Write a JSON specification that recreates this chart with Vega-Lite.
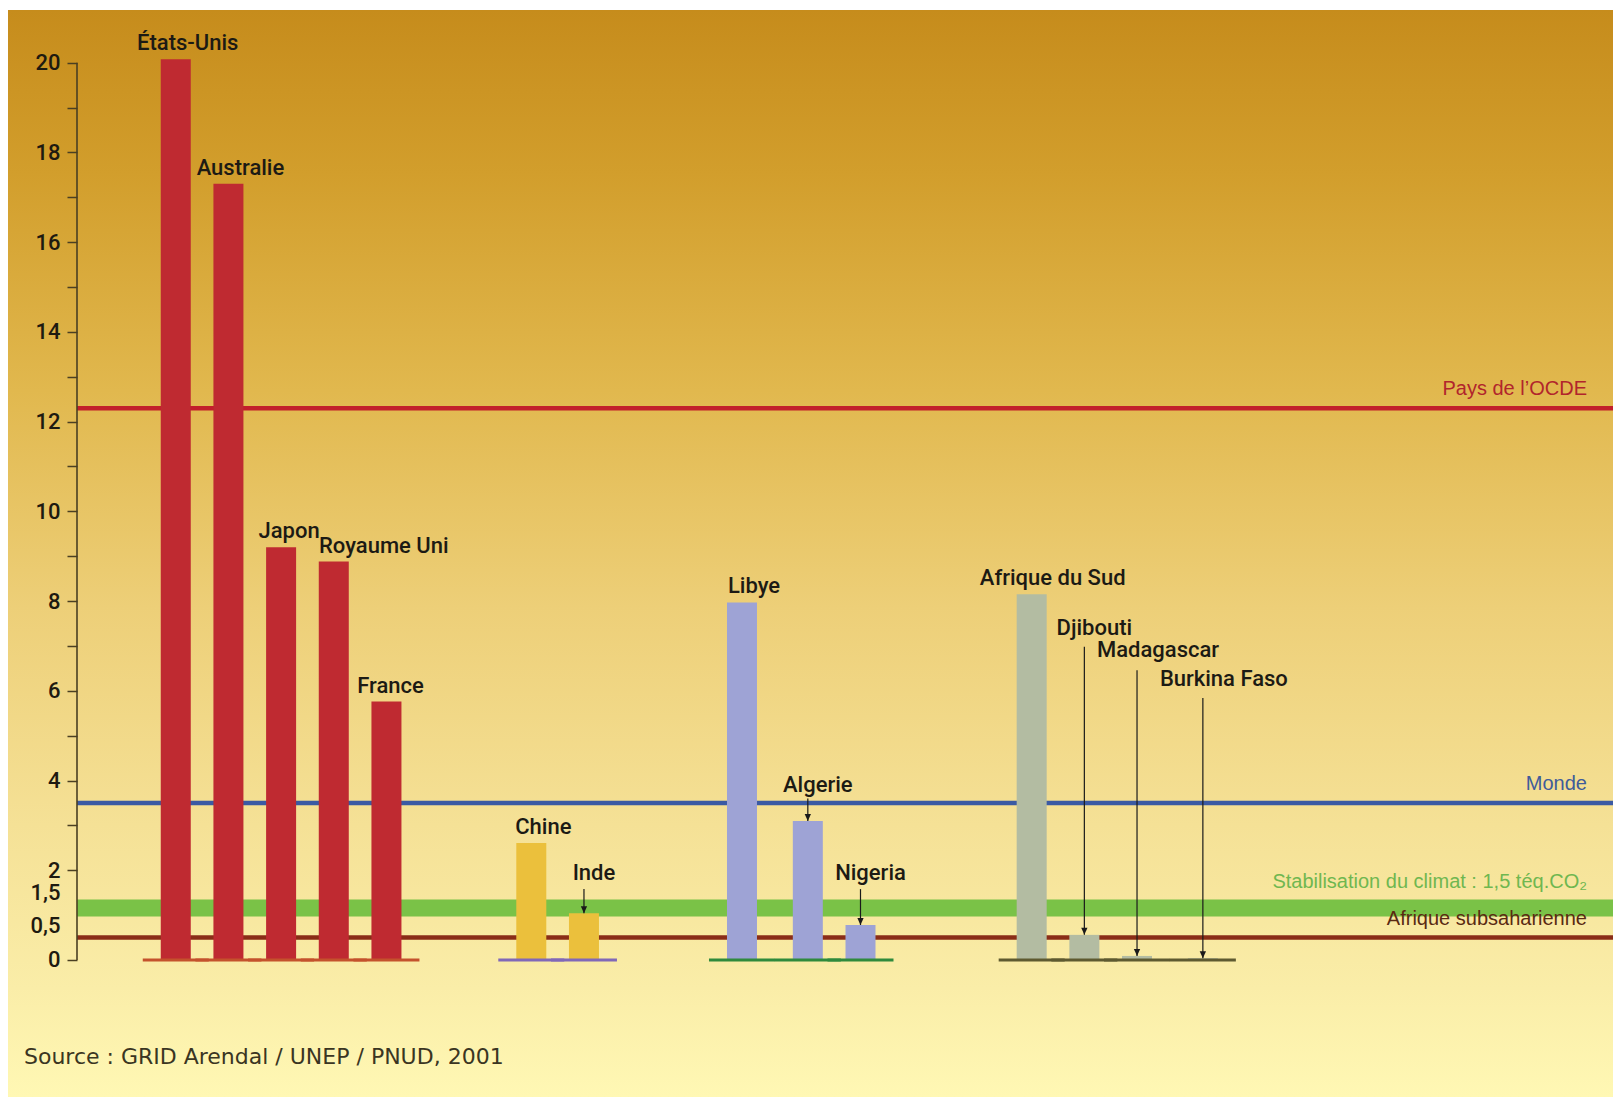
{
  "$schema": "https://vega.github.io/schema/vega-lite/v6.json",
  "width": 1605,
  "height": 1087,
  "autosize": {"type": "none"},
  "padding": {"left": 8, "top": 10, "right": 0, "bottom": 3},
  "background": "#ffffff",
  "view": {
    "stroke": null,
    "fill": {"expr": "{gradient: 'linear', x1: 0, y1: 0, x2: 0, y2: 1, stops: [{offset: 0, color: '#C68C1C'}, {offset: 0.15, color: '#D29E2C'}, {offset: 0.35, color: '#E1B84E'}, {offset: 0.55, color: '#EDCF78'}, {offset: 0.75, color: '#F5E196'}, {offset: 0.9, color: '#FAEDA8'}, {offset: 1, color: '#FFF8B4'}]}"}
  },
  "title": {
    "text": "Source : GRID Arendal / UNEP / PNUD, 2001",
    "orient": "bottom",
    "anchor": "start",
    "offset": -50,
    "dx": 16,
    "font": "DejaVu Sans",
    "fontSize": 22,
    "fontWeight": "normal",
    "color": "#3A3522"
  },
  "datasets": {
    "bars": [
      {"country": "États-Unis", "group": "OCDE", "value": 20.08},
      {"country": "Australie", "group": "OCDE", "value": 17.3},
      {"country": "Japon", "group": "OCDE", "value": 9.2},
      {"country": "Royaume Uni", "group": "OCDE", "value": 8.88},
      {"country": "France", "group": "OCDE", "value": 5.76},
      {"country": "Chine", "group": "Asie", "value": 2.61},
      {"country": "Inde", "group": "Asie", "value": 1.04},
      {"country": "Libye", "group": "Afrique pétrolière", "value": 7.97},
      {"country": "Algerie", "group": "Afrique pétrolière", "value": 3.1},
      {"country": "Nigeria", "group": "Afrique pétrolière", "value": 0.78},
      {"country": "Afrique du Sud", "group": "Afrique", "value": 8.15},
      {"country": "Djibouti", "group": "Afrique", "value": 0.56},
      {"country": "Madagascar", "group": "Afrique", "value": 0.09},
      {"country": "Burkina Faso", "group": "Afrique", "value": 0.04}
    ],
    "refs": [
      {"name": "Pays de l’OCDE", "value": 12.3},
      {"name": "Monde", "value": 3.5},
      {"name": "Stabilisation du climat : 1,5 téq.CO₂", "value": 1.16},
      {"name": "Afrique subsaharienne", "value": 0.5}
    ],
    "callouts": [
      {"country": "Inde", "label_at": 1.94, "arrow_from": 1.58},
      {"country": "Algerie", "label_at": 3.9, "arrow_from": 3.6},
      {"country": "Nigeria", "label_at": 1.94, "arrow_from": 1.58},
      {"country": "Djibouti", "label_at": 7.4, "arrow_from": 6.98},
      {"country": "Madagascar", "label_at": 6.91, "arrow_from": 6.46},
      {"country": "Burkina Faso", "label_at": 6.26, "arrow_from": 5.84}
    ]
  },
  "resolve": {"scale": {"color": "independent"}},
  "layer": [
    {
      "data": {"name": "bars"},
      "mark": {"type": "bar", "width": 30, "opacity": 0},
      "encoding": {
        "x": {
          "field": "country",
          "type": "nominal",
          "scale": {
            "type": "band",
            "domain": ["_0","_1","_2","_3","_4","_5","_6","États-Unis","_8","_9","_10","Australie","_12","_13","_14","Japon","_16","_17","_18","Royaume Uni","_20","_21","_22","France","_24","_25","_26","_27","_28","_29","_30","_31","_32","_33","Chine","_35","_36","_37","Inde","_39","_40","_41","_42","_43","_44","_45","_46","_47","_48","_49","Libye","_51","_52","_53","_54","Algerie","_56","_57","_58","Nigeria","_60","_61","_62","_63","_64","_65","_66","_67","_68","_69","_70","_71","Afrique du Sud","_73","_74","_75","Djibouti","_77","_78","_79","Madagascar","_81","_82","_83","_84","Burkina Faso","_86","_87","_88","_89","_90","_91","_92","_93","_94","_95","_96","_97","_98","_99","_100","_101","_102","_103","_104","_105","_106","_107","_108","_109","_110","_111","_112","_113","_114","_115"],
            "range": [69, 1596.49],
            "paddingInner": 0,
            "paddingOuter": 0
          },
          "axis": null
        },
        "y": {
          "field": "value",
          "type": "quantitative",
          "scale": {"domain": [-3.054, 21.175], "nice": false, "zero": false},
          "axis": {
            "orient": "left",
            "offset": -69,
            "title": null,
            "domain": false,
            "grid": false,
            "values": [0, 0.5, 1.5, 2, 3, 4, 5, 6, 7, 8, 9, 10, 11, 12, 13, 14, 15, 16, 17, 18, 19, 20],
            "labelExpr": "datum.value == 0.5 ? '0,5' : (datum.value == 1.5 ? '1,5' : (datum.value % 2 == 1 ? '' : '' + datum.value))",
            "labelOverlap": false,
            "labelFont": "Roboto",
            "labelFontWeight": 500,
            "labelFontSize": 22,
            "labelColor": "#1E1A10",
            "labelPadding": 7,
            "labelBaseline": {"condition": {"test": "datum.value == 0.5", "value": "bottom"}, "value": "middle"},
            "tickSize": 10,
            "tickWidth": 1.5,
            "tickColor": "#4A3F22",
            "tickOpacity": {"condition": {"test": "datum.value == 0.5 || datum.value == 1.5", "value": 0}, "value": 1}
          }
        }
      }
    },
    {
      "data": {"name": "refs"},
      "transform": [{"filter": "indexof(datum.name, 'Stabilisation') === 0"}],
      "mark": {"type": "rule", "color": "#7AC247", "strokeWidth": 17},
      "encoding": {
        "x": {"datum": "_0", "type": "nominal", "bandPosition": 0, "axis": null},
        "x2": {"datum": "_115", "bandPosition": 1.65},
        "y": {"field": "value", "type": "quantitative", "title": null}
      }
    },
    {
      "data": {"name": "refs"},
      "transform": [{"filter": "indexof(datum.name, 'Stabilisation') !== 0"}],
      "mark": {"type": "rule", "strokeWidth": 4.5},
      "encoding": {
        "x": {"datum": "_0", "type": "nominal", "bandPosition": 0, "axis": null},
        "x2": {"datum": "_115", "bandPosition": 1.65},
        "y": {"field": "value", "type": "quantitative", "title": null},
        "color": {
          "field": "name",
          "type": "nominal",
          "scale": {"domain": ["Pays de l’OCDE", "Monde", "Afrique subsaharienne"], "range": ["#C21F2B", "#3B5AA3", "#8A2D17"]},
          "legend": null
        }
      }
    },
    {
      "data": {"name": "bars"},
      "mark": {"type": "bar", "width": 30},
      "encoding": {
        "x": {"field": "country", "type": "nominal", "axis": null},
        "y": {"field": "value", "type": "quantitative", "title": null},
        "color": {
          "field": "group",
          "type": "nominal",
          "scale": {"domain": ["OCDE", "Asie", "Afrique pétrolière", "Afrique"], "range": ["#BF2A31", "#EBC03C", "#9EA3D5", "#B3BCA2"]},
          "legend": null
        }
      }
    },
    {
      "data": {"name": "bars"},
      "mark": {"type": "tick", "orient": "horizontal", "size": 66, "thickness": 3, "opacity": 1},
      "encoding": {
        "x": {"field": "country", "type": "nominal", "axis": null},
        "y": {"datum": 0, "type": "quantitative", "title": null},
        "color": {
          "field": "group",
          "type": "nominal",
          "scale": {"domain": ["OCDE", "Asie", "Afrique pétrolière", "Afrique"], "range": ["#C4522C", "#8068B8", "#2F8A3C", "#5E5A30"]},
          "legend": null
        }
      }
    },
    {
      "data": {"values": [{}]},
      "mark": {"type": "rule", "color": "#4A3F22", "strokeWidth": 1.6},
      "encoding": {
        "x": {"datum": "_0", "type": "nominal", "bandPosition": 0, "axis": null},
        "y": {"datum": 0, "type": "quantitative", "title": null},
        "y2": {"datum": 20}
      }
    },
    {
      "data": {"name": "bars"},
      "transform": [{"filter": "indexof(['Inde','Algerie','Nigeria','Djibouti','Madagascar','Burkina Faso'], datum.country) < 0"}],
      "mark": {
        "type": "text",
        "font": "Roboto",
        "fontWeight": 500,
        "fontSize": 22,
        "color": "#1C1A14",
        "baseline": "middle",
        "dy": -16,
        "dx": {"expr": "datum.country === 'Royaume Uni' ? 50 : (datum.country === 'France' ? 4 : (datum.country === 'Japon' ? 8 : (datum.country === 'Afrique du Sud' ? 21 : 12)))"}
      },
      "encoding": {
        "x": {"field": "country", "type": "nominal", "axis": null},
        "y": {"field": "value", "type": "quantitative", "title": null},
        "text": {"field": "country"}
      }
    },
    {
      "data": {"name": "callouts"},
      "mark": {
        "type": "text",
        "font": "Roboto",
        "fontWeight": 500,
        "fontSize": 22,
        "color": "#1C1A14",
        "baseline": "middle",
        "dx": {"expr": "datum.country === 'Madagascar' || datum.country === 'Burkina Faso' ? 21 : 10"}
      },
      "encoding": {
        "x": {"field": "country", "type": "nominal", "axis": null},
        "y": {"field": "label_at", "type": "quantitative", "title": null},
        "text": {"field": "country"}
      }
    },
    {
      "data": {"name": "callouts"},
      "transform": [{"lookup": "country", "from": {"data": {"name": "bars"}, "key": "country", "fields": ["value"]}}],
      "mark": {"type": "rule", "color": "#1A1A1A", "strokeWidth": 1.2},
      "encoding": {
        "x": {"field": "country", "type": "nominal", "axis": null},
        "y": {"field": "arrow_from", "type": "quantitative", "title": null},
        "y2": {"field": "value"}
      }
    },
    {
      "data": {"name": "callouts"},
      "transform": [{"lookup": "country", "from": {"data": {"name": "bars"}, "key": "country", "fields": ["value"]}}],
      "mark": {"type": "point", "shape": "M-0.45,-1L0.45,-1L0,0Z", "filled": true, "size": 196, "color": "#1A1A1A", "opacity": 1},
      "encoding": {
        "x": {"field": "country", "type": "nominal", "axis": null},
        "y": {"field": "value", "type": "quantitative", "title": null}
      }
    },
    {
      "data": {"name": "refs"},
      "mark": {
        "type": "text",
        "font": "Liberation Sans",
        "fontSize": 20,
        "align": "right",
        "baseline": "middle",
        "dy": {"expr": "datum.value > 1 && datum.value < 1.4 ? -26 : -19"}
      },
      "encoding": {
        "x": {"datum": "_114", "type": "nominal", "bandPosition": 0.67, "axis": null},
        "y": {"field": "value", "type": "quantitative", "title": null},
        "text": {"field": "name"},
        "color": {
          "field": "name",
          "type": "nominal",
          "scale": {"domain": ["Pays de l’OCDE", "Monde", "Stabilisation du climat : 1,5 téq.CO₂", "Afrique subsaharienne"], "range": ["#B1252C", "#3F5C9A", "#6FB750", "#5A2A12"]},
          "legend": null
        }
      }
    }
  ]
}
